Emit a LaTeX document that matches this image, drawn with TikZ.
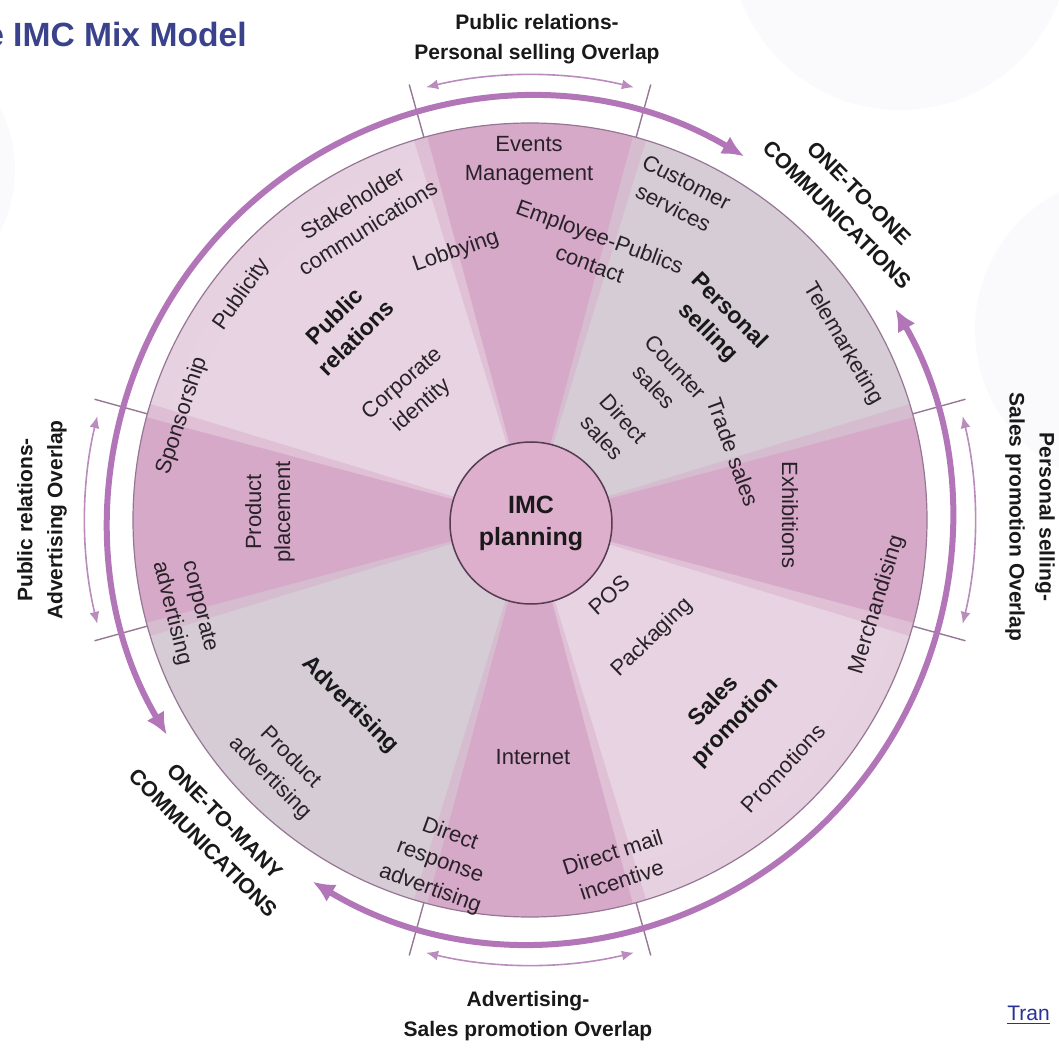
\documentclass[tikz,border=0pt]{standalone}
\usepackage{fontspec}
\setmainfont{Liberation Sans}
\usetikzlibrary{arrows.meta}

\definecolor{wedgecol}{RGB}{214,169,200}
\definecolor{prin}{RGB}{231,211,225}
\definecolor{prout}{RGB}{219,188,211}
\definecolor{graycol}{RGB}{213,204,214}
\definecolor{ringcol}{RGB}{178,118,184}
\definecolor{thincol}{RGB}{186,140,190}
\definecolor{tickcol}{RGB}{150,120,150}
\definecolor{rimcol}{RGB}{150,118,148}
\definecolor{imcfill}{RGB}{222,175,205}
\definecolor{imcline}{RGB}{85,60,80}
\definecolor{labeltext}{RGB}{40,34,40}
\definecolor{titleblue}{RGB}{58,66,140}
\definecolor{linkblue}{RGB}{40,50,150}
\definecolor{bgfaint}{RGB}{250,250,252}

\pgfdeclareradialshading{quadshade}{\pgfpoint{0bp}{0bp}}{color(0bp)=(prin); color(22bp)=(prin); color(50bp)=(prout)}

\begin{document}
\begin{tikzpicture}[x=0.5pt, y=0.5pt,
    lbl/.style={font=\fontsize{11}{14.5}\selectfont, text=labeltext, align=center, inner sep=0pt},
    hd/.style={lbl, font=\fontsize{11.5}{15}\selectfont\bfseries, text=black!90},
    ovl/.style={font=\fontsize{10.5}{15}\selectfont\bfseries, text=black!90, align=center, inner sep=0pt},
    comm/.style={font=\fontsize{10.7}{15.5}\selectfont\bfseries, text=black!90, align=center, inner sep=0pt, rotate=-45},
    tickline/.style={draw=tickcol, line width=0.7pt},
    ringline/.style={draw=ringcol, line width=3pt, arrows={Latex[length=11pt,width=10pt]-Latex[length=11pt,width=10pt]}},
    ovarrow/.style={draw=thincol, line width=0.8pt, arrows={Latex[length=6pt,width=5pt]-Latex[length=6pt,width=5pt]}},
    wedgefill/.style={fill=wedgecol},
    wedgesoft/.style={fill=wedgecol, fill opacity=0.45},
]
    \useasboundingbox (-530,-528) rectangle (529,520);
    \clip (-530,-528) rectangle (529,520);
    \fill[white] (-530,-528) rectangle (529,520);

    % faint slide background
    \fill[bgfaint] (370,580) circle[radius=170];
    \fill[bgfaint] (600,190) circle[radius=155];
    \fill[bgfaint] (-650,350) circle[radius=135];

    % disc and quadrants
    \fill[graycol] (0,0) circle[radius=397];
    \begin{scope}
        \clip (0,0) -- (90:400) arc[start angle=90, end angle=180, radius=400] -- cycle;
        \shade[shading=quadshade] (0,0) circle[radius=397];
    \end{scope}
    \begin{scope}
        \clip (0,0) -- (270:400) arc[start angle=270, end angle=360, radius=400] -- cycle;
        \shade[shading=quadshade] (0,0) circle[radius=397];
    \end{scope}

    % overlap wedges
    \fill[wedgesoft] (0,0) -- (73:397) arc[start angle=73, end angle=107, radius=397] -- cycle;
    \fill[wedgesoft] (0,0) -- (163:397) arc[start angle=163, end angle=197, radius=397] -- cycle;
    \fill[wedgesoft] (0,0) -- (253:397) arc[start angle=253, end angle=287, radius=397] -- cycle;
    \fill[wedgesoft] (0,0) -- (-17:397) arc[start angle=-17, end angle=17, radius=397] -- cycle;
    \fill[wedgefill] (0,0) -- (75:397) arc[start angle=75, end angle=105, radius=397] -- cycle;
    \fill[wedgefill] (0,0) -- (165:397) arc[start angle=165, end angle=195, radius=397] -- cycle;
    \fill[wedgefill] (0,0) -- (255:397) arc[start angle=255, end angle=285, radius=397] -- cycle;
    \fill[wedgefill] (0,0) -- (-15:397) arc[start angle=-15, end angle=15, radius=397] -- cycle;

    \draw[rimcol, line width=0.6pt] (0,0) circle[radius=397];

    % ticks
    \draw[tickline] (74.5:397) -- (74.5:452);
    \draw[tickline] (105.5:397) -- (105.5:452);
    \draw[tickline] (164.5:397) -- (164.5:452);
    \draw[tickline] (195.5:397) -- (195.5:452);
    \draw[tickline] (254.5:397) -- (254.5:452);
    \draw[tickline] (285.5:397) -- (285.5:452);
    \draw[tickline] (-15.5:397) -- (-15.5:452);
    \draw[tickline] (15.5:397) -- (15.5:452);

    % communication arcs
    \draw[ringline] (59.5:422) arc[start angle=59.5, end angle=210.6, radius=422];
    \draw[ringline] (239:422) arc[start angle=239, end angle=390, radius=422];

    % overlap arcs
    \draw[ovarrow] (76.5:445) arc[start angle=76.5, end angle=103.5, radius=445];
    \draw[ovarrow] (166.5:445) arc[start angle=166.5, end angle=193.5, radius=445];
    \draw[ovarrow] (256.5:445) arc[start angle=256.5, end angle=283.5, radius=445];
    \draw[ovarrow] (-13.5:445) arc[start angle=-13.5, end angle=13.5, radius=445];

    \node[circle, draw=imcline, fill=imcfill, line width=0.75pt, minimum size=81pt, inner sep=0pt,
          font=\fontsize{12.5}{16}\selectfont\bfseries, text=black!90, align=center] (imc) at (1,-3) {IMC\\planning};

    % public relations
    \node[lbl, rotate=72] (sponsor) at (-348,104) {Sponsorship};
    \node[lbl, rotate=55] (publicity) at (-288,225) {Publicity};
    \node[lbl, rotate=32] (stake) at (-170,305) {Stakeholder\\communications};
    \node[lbl, rotate=19] (lobby) at (-74,268) {Lobbying};
    \node[hd, rotate=45] (pr) at (-185,193) {Public\\relations};
    \node[lbl, rotate=41] (corpid) at (-118,125) {Corporate\\identity};
    \node[lbl] (events) at (-1,359) {Events\\Management};
    \node[lbl, rotate=-20] (employee) at (65,270) {Employee-Publics\\contact};

    % personal selling
    \node[lbl, rotate=-27] (custserv) at (150,325) {Customer\\services};
    \node[lbl, rotate=-60] (tele) at (313,176) {Telemarketing};
    \node[hd, rotate=-45] (ps) at (188,198) {Personal\\selling};
    \node[lbl, rotate=-47] (counter) at (135,143) {Counter\\sales};
    \node[lbl, rotate=-48] (directs) at (83,92) {Direct\\sales};
    \node[lbl, rotate=-70] (trade) at (203,68) {Trade sales};
    \node[lbl, rotate=-90] (exhib) at (260,5) {Exhibitions};

    % sales promotion
    \node[lbl, rotate=73] (merch) at (347,-85) {Merchandising};
    \node[lbl, rotate=47] (promos) at (253,-248) {Promotions};
    \node[hd, rotate=46] (sp) at (195,-192) {Sales\\promotion};
    \node[lbl, rotate=44] (pack) at (122,-118) {Packaging};
    \node[lbl, rotate=42] (pos) at (79,-75) {POS};
    \node[lbl, rotate=18] (dmail) at (87,-346) {Direct mail\\incentive};
    \node[lbl] (internet) at (3,-237) {Internet};

    % advertising
    \node[lbl, rotate=-76] (corpadv) at (-345,-90) {corporate\\advertising};
    \node[hd, rotate=-45] (adv) at (-180,-185) {Advertising};
    \node[lbl, rotate=-45] (prodadv) at (-250,-248) {Product\\advertising};
    \node[lbl, rotate=-20] (dresp) at (-90,-342) {Direct\\response\\advertising};
    \node[lbl, rotate=90] (placement) at (-260,8) {Product\\placement};

    % outer texts
    \node[ovl] (ovtop) at (7,481) {Public relations-\\Personal selling Overlap};
    \node[ovl, rotate=90] (ovleft) at (-488,0) {Public relations-\\Advertising Overlap};
    \node[ovl, rotate=-90] (ovright) at (500,3) {Personal selling-\\Sales promotion Overlap};
    \node[ovl] (ovbot) at (-2,-496) {Advertising-\\Sales promotion Overlap};
    \node[comm] (one) at (318,316) {ONE-TO-ONE\\COMMUNICATIONS};
    \node[comm] (many) at (-316,-312) {ONE-TO-MANY\\COMMUNICATIONS};

    \node[anchor=base east, font=\fontsize{16.8}{20}\selectfont\bfseries, text=titleblue, inner sep=0pt] (title) at (-283,473) {The IMC Mix Model};
    \node[anchor=base west, font=\fontsize{10.5}{12}\selectfont, text=linkblue, inner sep=0pt] (tran) at (477,-500) {\underline{Tran}};
\end{tikzpicture}
\end{document}
